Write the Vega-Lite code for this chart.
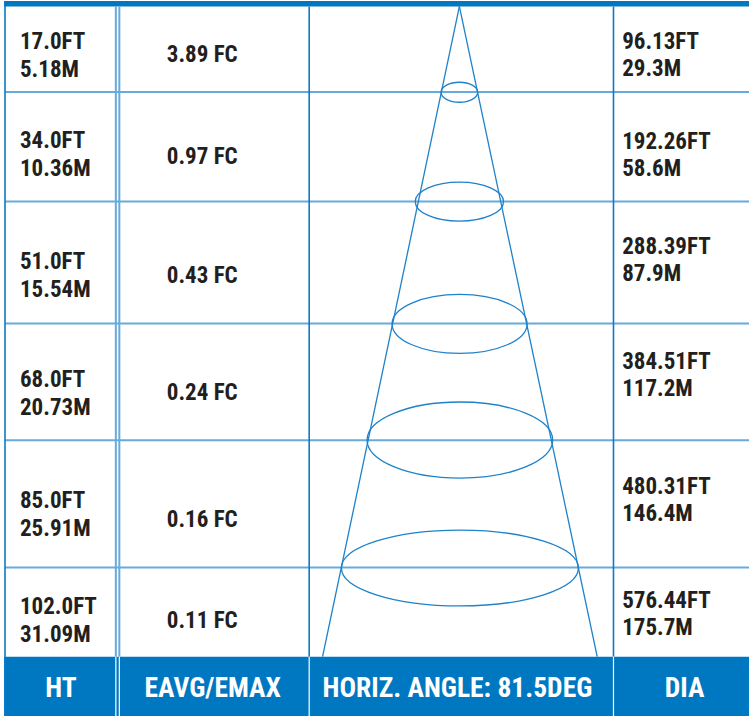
{
  "$schema": "https://vega.github.io/schema/vega-lite/v6.json",
  "autosize": {"type": "fit", "contains": "padding"},
  "width": 750,
  "height": 717,
  "padding": 0,
  "background": "white",
  "config": {"view": {"stroke": null}},
  "datasets": {
    "bars": [
      {"part": "top", "x": 4, "x2": 750, "y": 0, "y2": 5.5},
      {"part": "header", "x": 4, "x2": 750, "y": 657.5, "y2": 717}
    ],
    "grid": [
      {"kind": "light", "x": 5, "x2": 750, "y": 91.3, "y2": 91.3},
      {"kind": "light", "x": 5, "x2": 750, "y": 201, "y2": 201},
      {"kind": "light", "x": 5, "x2": 750, "y": 323.3, "y2": 323.3},
      {"kind": "light", "x": 5, "x2": 750, "y": 440.6, "y2": 440.6},
      {"kind": "light", "x": 5, "x2": 750, "y": 568, "y2": 568},
      {"kind": "light", "x": 116, "x2": 116, "y": 5.5, "y2": 657.5},
      {"kind": "light", "x": 119.5, "x2": 119.5, "y": 5.5, "y2": 657.5},
      {"kind": "dark", "x": 5, "x2": 5, "y": 0, "y2": 717},
      {"kind": "dark", "x": 309.6, "x2": 309.6, "y": 5.5, "y2": 657.5},
      {"kind": "dark", "x": 614.3, "x2": 614.3, "y": 5.5, "y2": 657.5},
      {"kind": "white", "x": 116, "x2": 116, "y": 657.5, "y2": 717},
      {"kind": "white", "x": 119.5, "x2": 119.5, "y": 657.5, "y2": 717},
      {"kind": "white", "x": 309.6, "x2": 309.6, "y": 657.5, "y2": 717},
      {"kind": "white", "x": 614.3, "x2": 614.3, "y": 657.5, "y2": 717}
    ],
    "cone": [
      {"side": "left", "x": 460, "y": 5.5, "x2": 323, "y2": 657.5},
      {"side": "right", "x": 460, "y": 5.5, "x2": 598, "y2": 657.5}
    ],
    "rings": [
      {"ring": "r1", "cx": 460, "cy": 91.5, "w": 36.6},
      {"ring": "r2", "cx": 460, "cy": 201.2, "w": 88.3},
      {"ring": "r3", "cx": 460.2, "cy": 323.8, "w": 135},
      {"ring": "r4", "cx": 460.5, "cy": 440.3, "w": 185.6},
      {"ring": "r5", "cx": 460.5, "cy": 568.6, "w": 237}
    ],
    "rows": [
      {"ht": "17.0FT\n5.18M", "hy": 47.7, "fc": "3.89 FC", "fy": 61.2, "dia": "96.13FT\n29.3M", "dy": 48.2},
      {"ht": "34.0FT\n10.36M", "hy": 147.7, "fc": "0.97 FC", "fy": 163.2, "dia": "192.26FT\n58.6M", "dy": 148.2},
      {"ht": "51.0FT\n15.54M", "hy": 268.7, "fc": "0.43 FC", "fy": 283.2, "dia": "288.39FT\n87.9M", "dy": 254.2},
      {"ht": "68.0FT\n20.73M", "hy": 386.7, "fc": "0.24 FC", "fy": 400.2, "dia": "384.51FT\n117.2M", "dy": 369.2},
      {"ht": "85.0FT\n25.91M", "hy": 508.7, "fc": "0.16 FC", "fy": 527.2, "dia": "480.31FT\n146.4M", "dy": 494.2},
      {"ht": "102.0FT\n31.09M", "hy": 614.7, "fc": "0.11 FC", "fy": 629.2, "dia": "576.44FT\n175.7M", "dy": 608.2}
    ],
    "heads": [
      {"label": "HT", "x": 61},
      {"label": "EAVG/EMAX", "x": 213},
      {"label": "HORIZ. ANGLE: 81.5DEG", "x": 458},
      {"label": "DIA", "x": 685.5}
    ]
  },
  "layer": [
    {
      "data": {"name": "bars"},
      "mark": {"type": "rect", "color": "#0078c1"},
      "encoding": {
        "x": {"field": "x", "type": "quantitative", "scale": {"domain": [0, 750], "nice": false, "zero": false}, "axis": null},
        "x2": {"field": "x2"},
        "y": {"field": "y", "type": "quantitative", "scale": {"domain": [0, 717], "nice": false, "zero": false, "reverse": true}, "axis": null},
        "y2": {"field": "y2"}
      }
    },
    {
      "data": {"name": "grid"},
      "transform": [{"filter": "datum.kind === 'light'"}],
      "mark": {"type": "rule", "color": "#66abdc", "strokeWidth": 2},
      "encoding": {
        "x": {"field": "x", "type": "quantitative", "scale": {"domain": [0, 750], "nice": false, "zero": false}, "axis": null},
        "x2": {"field": "x2"},
        "y": {"field": "y", "type": "quantitative", "scale": {"domain": [0, 717], "nice": false, "zero": false, "reverse": true}, "axis": null},
        "y2": {"field": "y2"}
      }
    },
    {
      "data": {"name": "grid"},
      "transform": [{"filter": "datum.kind === 'dark'"}],
      "mark": {"type": "rule", "color": "#0a7bc4", "strokeWidth": 1.6},
      "encoding": {
        "x": {"field": "x", "type": "quantitative", "scale": {"domain": [0, 750], "nice": false, "zero": false}, "axis": null},
        "x2": {"field": "x2"},
        "y": {"field": "y", "type": "quantitative", "scale": {"domain": [0, 717], "nice": false, "zero": false, "reverse": true}, "axis": null},
        "y2": {"field": "y2"}
      }
    },
    {
      "data": {"name": "grid"},
      "transform": [{"filter": "datum.kind === 'white'"}],
      "mark": {"type": "rule", "color": "#ffffff", "strokeWidth": 1.2},
      "encoding": {
        "x": {"field": "x", "type": "quantitative", "scale": {"domain": [0, 750], "nice": false, "zero": false}, "axis": null},
        "x2": {"field": "x2"},
        "y": {"field": "y", "type": "quantitative", "scale": {"domain": [0, 717], "nice": false, "zero": false, "reverse": true}, "axis": null},
        "y2": {"field": "y2"}
      }
    },
    {
      "data": {"name": "cone"},
      "mark": {"type": "rule", "color": "#1f82c9", "strokeWidth": 1.3},
      "encoding": {
        "x": {"field": "x", "type": "quantitative", "scale": {"domain": [0, 750], "nice": false, "zero": false}, "axis": null},
        "x2": {"field": "x2"},
        "y": {"field": "y", "type": "quantitative", "scale": {"domain": [0, 717], "nice": false, "zero": false, "reverse": true}, "axis": null},
        "y2": {"field": "y2"}
      }
    },
    {
      "data": {"name": "rings"},
      "mark": {"type": "point", "filled": false, "stroke": "#1f82c9", "strokeWidth": 1.3, "opacity": 1},
      "encoding": {
        "x": {"field": "cx", "type": "quantitative", "scale": {"domain": [0, 750], "nice": false, "zero": false}, "axis": null},
        "y": {"field": "cy", "type": "quantitative", "scale": {"domain": [0, 717], "nice": false, "zero": false, "reverse": true}, "axis": null},
        "size": {"field": "w", "type": "quantitative", "scale": {"type": "pow", "exponent": 2, "domain": [0, 750], "range": [0, 562500]}, "legend": null},
        "shape": {
          "field": "ring",
          "type": "nominal",
          "legend": null,
          "scale": {
            "domain": ["r1", "r2", "r3", "r4", "r5"],
            "range": [
              "M-1,0C-1,-0.3016 -0.5523,-0.546 0,-0.546C0.5523,-0.546 1,-0.3016 1,0C1,0.3016 0.5523,0.546 0,0.546C-0.5523,0.546 -1,0.3016 -1,0Z",
              "M-1,0C-1,-0.2447 -0.5523,-0.443 0,-0.443C0.5523,-0.443 1,-0.2447 1,0C1,0.2447 0.5523,0.443 0,0.443C-0.5523,0.443 -1,0.2447 -1,0Z",
              "M-1,0C-1,-0.2414 -0.5523,-0.437 0,-0.437C0.5523,-0.437 1,-0.2414 1,0C1,0.2414 0.5523,0.437 0,0.437C-0.5523,0.437 -1,0.2414 -1,0Z",
              "M-1,0C-1,-0.2264 -0.5523,-0.41 0,-0.41C0.5523,-0.41 1,-0.2264 1,0C1,0.2264 0.5523,0.41 0,0.41C-0.5523,0.41 -1,0.2264 -1,0Z",
              "M-1,0C-1,-0.1767 -0.5523,-0.32 0,-0.32C0.5523,-0.32 1,-0.1767 1,0C1,0.1767 0.5523,0.32 0,0.32C-0.5523,0.32 -1,0.1767 -1,0Z"
            ]
          }
        }
      }
    },
    {
      "data": {"name": "rows"},
      "mark": {"type": "text", "align": "left", "baseline": "alphabetic", "lineBreak": "\n", "lineHeight": 28, "font": "'Roboto Condensed', 'Open Sans Condensed', 'Liberation Sans Narrow', 'DejaVu Sans Condensed', sans-serif", "fontWeight": "bold", "fontSize": 23, "color": "#231f20"},
      "encoding": {
        "x": {"datum": 20, "type": "quantitative", "scale": {"domain": [0, 750], "nice": false, "zero": false}, "axis": null},
        "y": {"field": "hy", "type": "quantitative", "scale": {"domain": [0, 717], "nice": false, "zero": false, "reverse": true}, "axis": null},
        "text": {"field": "ht"}
      }
    },
    {
      "data": {"name": "rows"},
      "mark": {"type": "text", "align": "left", "baseline": "alphabetic", "font": "'Roboto Condensed', 'Open Sans Condensed', 'Liberation Sans Narrow', 'DejaVu Sans Condensed', sans-serif", "fontWeight": "bold", "fontSize": 23, "color": "#231f20"},
      "encoding": {
        "x": {"datum": 167, "type": "quantitative", "scale": {"domain": [0, 750], "nice": false, "zero": false}, "axis": null},
        "y": {"field": "fy", "type": "quantitative", "scale": {"domain": [0, 717], "nice": false, "zero": false, "reverse": true}, "axis": null},
        "text": {"field": "fc"}
      }
    },
    {
      "data": {"name": "rows"},
      "mark": {"type": "text", "align": "left", "baseline": "alphabetic", "lineBreak": "\n", "lineHeight": 27, "font": "'Roboto Condensed', 'Open Sans Condensed', 'Liberation Sans Narrow', 'DejaVu Sans Condensed', sans-serif", "fontWeight": "bold", "fontSize": 23, "color": "#231f20"},
      "encoding": {
        "x": {"datum": 623, "type": "quantitative", "scale": {"domain": [0, 750], "nice": false, "zero": false}, "axis": null},
        "y": {"field": "dy", "type": "quantitative", "scale": {"domain": [0, 717], "nice": false, "zero": false, "reverse": true}, "axis": null},
        "text": {"field": "dia"}
      }
    },
    {
      "data": {"name": "heads"},
      "mark": {"type": "text", "align": "center", "baseline": "alphabetic", "font": "'Roboto Condensed', 'Open Sans Condensed', 'Liberation Sans Narrow', 'DejaVu Sans Condensed', sans-serif", "fontWeight": "bold", "fontSize": 27.5, "color": "#ffffff"},
      "encoding": {
        "x": {"field": "x", "type": "quantitative", "scale": {"domain": [0, 750], "nice": false, "zero": false}, "axis": null},
        "y": {"datum": 698, "type": "quantitative", "scale": {"domain": [0, 717], "nice": false, "zero": false, "reverse": true}, "axis": null},
        "text": {"field": "label"}
      }
    }
  ]
}
